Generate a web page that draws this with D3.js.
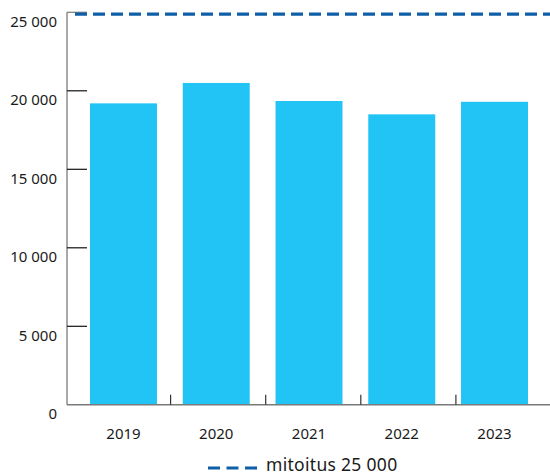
<!DOCTYPE html>
<html>
<head>
<meta charset="utf-8">
<script src="https://cdn.jsdelivr.net/npm/d3@7"></script>
<style>
  body { margin: 0; background: #fff; }
  text { font-family: "Noto Sans", sans-serif; fill: #1a1a1a; }
</style>
</head>
<body>
<div id="chart"></div>
<script>
var years = ["2019", "2020", "2021", "2022", "2023"];
var values = [19200, 20500, 19350, 18500, 19300];
var yTicks = [0, 5000, 10000, 15000, 20000, 25000];
var mitoitus = 25000;
var legendLabel = "mitoitus 25 000";

var width = 550, height = 476;
var plotLeft = 67, plotRight = 551, plotTop = 12.3, plotBottom = 404.8;

var svg = d3.select("#chart").append("svg")
    .attr("width", width)
    .attr("height", height);

var y = d3.scaleLinear().domain([0, 25000]).range([plotBottom, plotTop]);
var x = d3.scaleBand().domain(years).range([plotLeft, plotRight])
    .paddingInner(0.278).paddingOuter(0.248);
// category boundaries for the small tick marks on the x axis
var xCat = d3.scaleBand().domain(years).range([75.5, 551]);

function fmt(v) {
    return d3.format(",")(v).replace(/,/g, " ");
}

// bars
svg.selectAll("rect.bar")
    .data(values)
    .enter().append("rect")
    .attr("class", "bar")
    .attr("x", function (d, i) { return x(years[i]); })
    .attr("width", x.bandwidth())
    .attr("y", function (d) { return y(d); })
    .attr("height", function (d) { return y(0) - y(d); })
    .attr("fill", "#21c4f5");

// y axis line
svg.append("line")
    .attr("x1", plotLeft).attr("x2", plotLeft)
    .attr("y1", plotTop).attr("y2", plotBottom)
    .attr("stroke", "#7a7a7a").attr("stroke-width", 1.3);

// y ticks (inward)
svg.selectAll("line.ytick")
    .data(yTicks.filter(function (d) { return d > 0; }))
    .enter().append("line")
    .attr("class", "ytick")
    .attr("x1", plotLeft).attr("x2", plotLeft + 20)
    .attr("y1", function (d) { return y(d); })
    .attr("y2", function (d) { return y(d); })
    .attr("stroke", function (d) { return d == 25000 ? "#7a7a7a" : "#111"; })
    .attr("stroke-width", 1.2);

svg.selectAll("text.ylab")
    .data(yTicks)
    .enter().append("text")
    .attr("class", "ylab")
    .attr("x", 57)
    .attr("y", function (d) { return y(d) + 9; })
    .attr("dy", "0.35em")
    .attr("text-anchor", "end")
    .attr("font-size", "15px")
    .text(fmt);

// x axis line
svg.append("line")
    .attr("x1", plotLeft).attr("x2", width)
    .attr("y1", plotBottom).attr("y2", plotBottom)
    .attr("stroke", "#7a7a7a").attr("stroke-width", 1.5);

// x tick marks between categories
svg.selectAll("line.xtick")
    .data(years.slice(1))
    .enter().append("line")
    .attr("class", "xtick")
    .attr("x1", function (d) { return xCat(d); })
    .attr("x2", function (d) { return xCat(d); })
    .attr("y1", plotBottom - 10).attr("y2", plotBottom)
    .attr("stroke", "#333").attr("stroke-width", 1.2);

svg.selectAll("text.xlab")
    .data(years)
    .enter().append("text")
    .attr("class", "xlab")
    .attr("x", function (d) { return x(d) + x.bandwidth() / 2; })
    .attr("y", 434)
    .attr("dy", "0.35em")
    .attr("text-anchor", "middle")
    .attr("font-size", "15px")
    .text(function (d) { return d; });

// mitoitus line
svg.append("line")
    .attr("x1", 75).attr("x2", width)
    .attr("y1", y(mitoitus) + 1.8).attr("y2", y(mitoitus) + 1.8)
    .attr("stroke", "#0e5fa8").attr("stroke-width", 3.2)
    .attr("stroke-dasharray", "12,6");

// legend
var lg = svg.append("g").attr("transform", "translate(208,468)");
lg.append("line")
    .attr("x1", 0).attr("x2", 49)
    .attr("y1", 0).attr("y2", 0)
    .attr("stroke", "#0e5fa8").attr("stroke-width", 3.2)
    .attr("stroke-dasharray", "12,6.5");
lg.append("text")
    .attr("x", 58)
    .attr("y", -3)
    .attr("dy", "0.35em")
    .attr("font-size", "17.5px")
    .attr("letter-spacing", "0.3px")
    .text(legendLabel);
</script>
</body>
</html>
